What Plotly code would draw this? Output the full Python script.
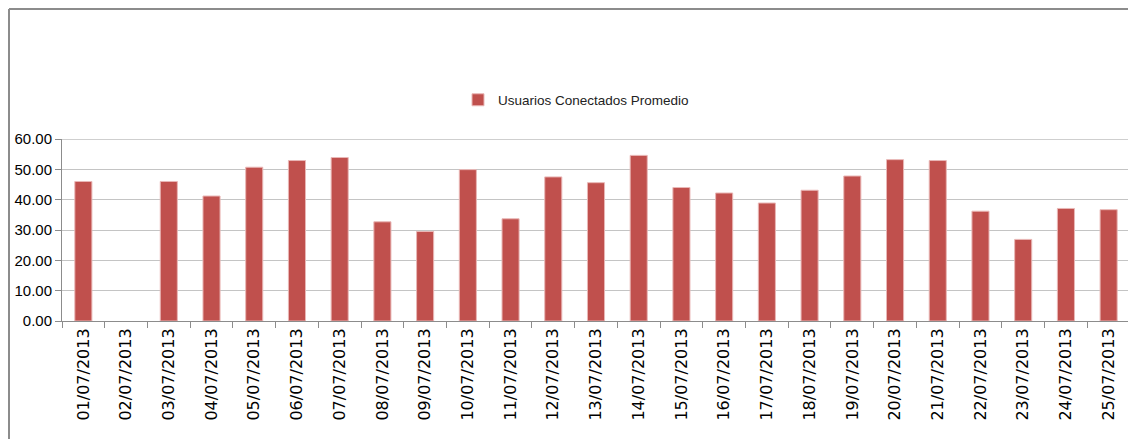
import plotly.graph_objects as go

fechas = [
    "01/07/2013", "02/07/2013", "03/07/2013", "04/07/2013", "05/07/2013",
    "06/07/2013", "07/07/2013", "08/07/2013", "09/07/2013", "10/07/2013",
    "11/07/2013", "12/07/2013", "13/07/2013", "14/07/2013", "15/07/2013",
    "16/07/2013", "17/07/2013", "18/07/2013", "19/07/2013", "20/07/2013",
    "21/07/2013", "22/07/2013", "23/07/2013", "24/07/2013", "25/07/2013",
]
usuarios = [
    46.0, None, 46.0, 41.2, 50.7,
    52.9, 53.9, 32.7, 29.5, 49.9,
    33.7, 47.5, 45.6, 54.6, 44.0,
    42.2, 38.9, 43.1, 47.8, 53.2,
    52.9, 36.2, 26.9, 37.1, 36.7,
]
y_ticks = [0, 10, 20, 30, 40, 50, 60]

# the page body adds an 8px offset, so the figure is sized to the visible area
OFF = 8
W, H = 1128, 431
L, R, T, B = 62 - OFF, 6, 139 - OFF, 118


def px_x(x):
    # page pixel -> paper coordinate
    return (x - OFF - L) / (W - L - R)


def px_y(y):
    return (H - B - (y - OFF)) / (H - T - B)


fig = go.Figure()
fig.add_trace(go.Bar(
    x=fechas,
    y=usuarios,
    name="Usuarios Conectados Promedio",
    marker=dict(color="#C0504D", line=dict(color="#E9B7B6", width=1)),
    showlegend=True,
))

# outer frame of the chart (only top and left edges visible in the crop)
fig.add_shape(type="line", xref="paper", yref="paper",
              x0=px_x(9), x1=px_x(1131), y0=px_y(9), y1=px_y(9),
              line=dict(color="#8c8c8c", width=2))
fig.add_shape(type="line", xref="paper", yref="paper",
              x0=px_x(9), x1=px_x(9), y0=px_y(9), y1=px_y(450),
              line=dict(color="#8c8c8c", width=2))
# top gridline is a bit darker in the original
fig.add_shape(type="line", xref="paper", yref="y",
              x0=0, x1=1, y0=60, y1=60,
              line=dict(color="#a0a0a0", width=1))

fig.update_layout(
    width=W, height=H,
    margin=dict(l=L, r=R, t=T, b=B),
    paper_bgcolor="white",
    plot_bgcolor="white",
    bargap=0.6,
    font=dict(family="Liberation Sans, sans-serif", size=15, color="#000000"),
    legend=dict(
        orientation="h",
        x=px_x(458), y=px_y(100),
        xanchor="left", yanchor="middle",
        font=dict(size=13.5, color="#222222"),
        itemwidth=30,
    ),
)
fig.update_xaxes(
    type="category",
    tickangle=-90,
    tickfont=dict(family="DejaVu Sans", size=16, color="#000000"),
    showline=True, linecolor="#8c8c8c", linewidth=1,
    ticks="outside", tickson="boundaries", ticklen=6, tickcolor="#8c8c8c",
    showgrid=False,
    automargin=False,
)
fig.update_yaxes(
    range=[0, 60],
    tickvals=y_ticks,
    tickformat=".2f",
    tickfont=dict(size=15),
    showline=True, linecolor="#8c8c8c", linewidth=1,
    ticks="outside", ticklen=6, tickcolor="#8c8c8c",
    showgrid=True, gridcolor="#c4c4c4", gridwidth=1,
    zeroline=False,
    automargin=False,
)

fig.write_html("out.html")
